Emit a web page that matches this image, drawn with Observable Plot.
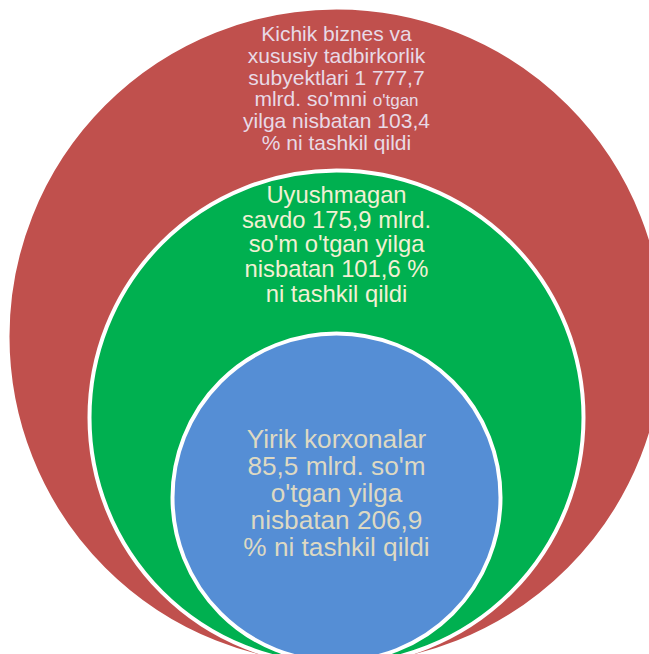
<!DOCTYPE html>
<html>
<head>
<meta charset="utf-8">
<script src="https://cdn.jsdelivr.net/npm/d3@7"></script>
<script src="https://cdn.jsdelivr.net/npm/@observablehq/plot@0.6"></script>
<style>
  html, body { margin: 0; padding: 0; background: #fff; overflow: hidden; }
  #chart svg { display: block; overflow: hidden; }
</style>
</head>
<body>
<div id="chart"></div>
<script>
// ---- data ----
const categories = [
  "Kichik biznes va xususiy tadbirkorlik subyektlari",
  "Uyushmagan savdo",
  "Yirik korxonalar"
];
const values = [1777.7, 175.9, 85.5];      // mlrd. so'm
const growth = [103.4, 101.6, 206.9];      // % to previous year
const nesting = [0, 1, 2];                 // outer -> inner

const fmt = v => {
  const [i, f] = v.toFixed(1).split(".");
  return i.replace(/\B(?=(\d{3})+(?!\d))/g, " ") + "," + f;
};
const labelLines = [
  ["Kichik biznes va", "xususiy tadbirkorlik", `subyektlari ${fmt(values[0])}`,
   "mlrd. so'mni o'tgan", `yilga nisbatan ${fmt(growth[0])}`, "% ni tashkil qildi"],
  ["Uyushmagan", `savdo ${fmt(values[1])} mlrd.`, "so'm o'tgan yilga",
   `nisbatan ${fmt(growth[1])} %`, "ni tashkil qildi"],
  ["Yirik korxonalar", `${fmt(values[2])} mlrd. so'm`, "o'tgan yilga",
   `nisbatan ${fmt(growth[2])}`, "% ni tashkil qildi"]
];

// ---- styling / layout ----
const fills = ["#C0504D", "#00B050", "#558ED5"];
const textColors = ["#E8DAE6", "#F2F0D4", "#DDD9C3"];
const fontSizes = [21, 23.8, 26.2];
const lineHeights = [1.04, 1.04, 1.03];
const textDy = [-248, -173, -4];
const font = "'Liberation Sans', Arial, sans-serif";

const rows = nesting.map(i => ({level: i, category: categories[i], value: values[i]}));

const textMarks = nesting.map(i =>
  Plot.text([rows[i]], {
    y: "level",
    text: d => labelLines[d.level].join("\n"),
    fill: textColors[i],
    fontSize: fontSizes[i],
    lineHeight: lineHeights[i],
    fontFamily: font,
    textAnchor: "middle",
    dy: textDy[i]
  })
);

const chart = Plot.plot({
  width: 649,
  height: 654,
  marginLeft: 23,
  marginRight: 0,
  marginTop: 0,
  marginBottom: 0,
  style: {background: "#fff", fontFamily: font},
  y: {type: "linear", domain: [0, 1, 2], range: [336, 417, 497], axis: null},
  r: {type: "linear", domain: [0, 1, 2], range: [329, 247, 164]},
  color: {domain: categories, range: fills},
  marks: [
    Plot.dot(rows, {
      y: "level",
      r: "level",
      fill: "category",
      stroke: "#fff",
      strokeWidth: 4,
      fillOpacity: 1,
      sort: null
    }),
    ...textMarks
  ]
});

// smaller "o'tgan" in the outer label, as in the original
chart.querySelectorAll("tspan").forEach(t => {
  if (t.textContent === "mlrd. so'mni o'tgan") {
    t.textContent = "mlrd. so'mni ";
    const s = document.createElementNS("http://www.w3.org/2000/svg", "tspan");
    s.setAttribute("font-size", "17");
    s.textContent = "o'tgan";
    t.appendChild(s);
  }
});

document.getElementById("chart").appendChild(chart);
</script>
</body>
</html>
